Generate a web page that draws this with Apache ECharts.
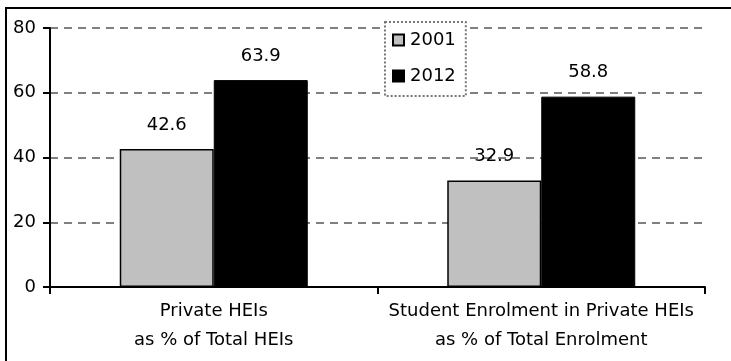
<!DOCTYPE html>
<html>
<head>
<meta charset="utf-8">
<script src="https://cdn.jsdelivr.net/npm/echarts@6/dist/echarts.min.js"></script>
<style>
  html, body { margin: 0; padding: 0; background: #fff; }
  #chart { width: 731px; height: 361px; }
</style>
</head>
<body>
<div id="chart"></div>
<script>
// data
var categories = ['Private HEIs\nas % of Total HEIs', 'Student Enrolment in Private HEIs\nas % of Total Enrolment'];
var years = ['2001', '2012'];
var values2001 = [42.6, 32.9];
var values2012 = [63.9, 58.8];
var yTicks = [0, 20, 40, 60, 80];

var font = 'DejaVu Sans';
var myChart = echarts.init(document.getElementById('chart'));

var option = {
    animation: false,
    textStyle: { fontFamily: font, color: '#000' },
    graphic: [{
        type: 'rect',
        shape: { x: 6, y: 8, width: 740, height: 370 },
        style: { fill: 'none', stroke: '#000', lineWidth: 2 },
        silent: true
    }],
    grid: { left: 50, right: 26, top: 28, bottom: 74 },
    legend: {
        orient: 'vertical',
        left: 385,
        top: 22,
        padding: [9, 10, 11, 7],
        itemGap: 18,
        itemWidth: 11,
        itemHeight: 11,
        borderColor: '#777',
        borderWidth: 2,
        borderType: 'dotted',
        backgroundColor: '#fff',
        textStyle: { fontFamily: font, fontSize: 18, color: '#000', padding: [0, 0, 0, 1] },
        data: years.map(function (y) { return { name: y, icon: 'rect' }; })
    },
    xAxis: {
        type: 'category',
        data: categories,
        axisLine: { lineStyle: { color: '#000', width: 2 } },
        axisTick: { show: true, alignWithLabel: false, length: 7, lineStyle: { color: '#000', width: 2 } },
        axisLabel: { interval: 0, fontFamily: font, fontSize: 18, color: '#000', lineHeight: 29, margin: 10 }
    },
    yAxis: {
        type: 'value',
        min: yTicks[0],
        max: yTicks[yTicks.length - 1],
        interval: 20,
        axisLine: { show: true, lineStyle: { color: '#000', width: 2 } },
        axisTick: { show: true, length: 7, lineStyle: { color: '#000', width: 2 } },
        axisLabel: { fontFamily: font, fontSize: 18, color: '#000', margin: 14 },
        splitLine: { lineStyle: { color: '#808080', type: [8, 6], width: 2 } }
    },
    series: [
        {
            name: years[0],
            type: 'bar',
            data: values2001,
            barWidth: 94,
            barGap: '0%',
            itemStyle: { color: '#c0c0c0', borderColor: '#000', borderWidth: 1.5 },
            label: { show: true, position: 'top', distance: 15, fontFamily: font, fontSize: 18, color: '#000' }
        },
        {
            name: years[1],
            type: 'bar',
            data: values2012,
            barWidth: 94,
            barGap: '0%',
            itemStyle: { color: '#000', borderColor: '#000', borderWidth: 1 },
            label: { show: true, position: 'top', distance: 15, fontFamily: font, fontSize: 18, color: '#000' }
        }
    ]
};
myChart.setOption(option);
</script>
</body>
</html>
